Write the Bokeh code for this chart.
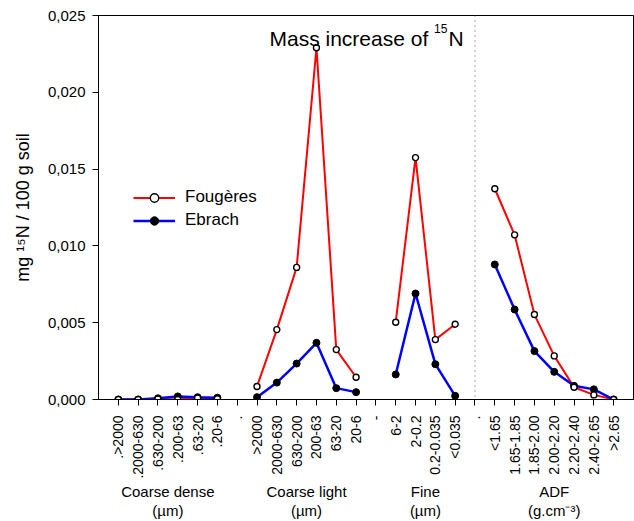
import math
from bokeh.plotting import figure
from bokeh.models import (FixedTicker, CustomJSTickFormatter, Label, Span, Legend,
                          LegendItem, Range1d, ColumnDataSource, LinearAxis)
from bokeh.embed import file_html
from bokeh.resources import INLINE

nan = float("nan")

categories = [".>2000", ".2000-630", ".630-200", ".200-63", ".63-20", ".20-6", ".",
              ">2000", "2000-630", "630-200", "200-63", "63-20", "20-6", "-",
              "6-2", "2-0.2", "0.2-0.035", "<0.035", ".",
              "<1.65", "1.65-1.85", "1.85-2.00", "2.00-2.20", "2.20-2.40", "2.40-2.65", ">2.65"]
positions = list(range(1, len(categories) + 1))

fougeres = [0.0, 0.0, 0.00003, 0.0, 0.0001, 0.00005, nan,
            0.00085, 0.00455, 0.0086, 0.0229, 0.00325, 0.00145, nan,
            0.00503, 0.01575, 0.0039, 0.0049, nan,
            0.01372, 0.01072, 0.00553, 0.00284, 0.0008, 0.0003, 0.0]
ebrach = [0.0, 0.0, 0.00008, 0.0002, 0.00015, 0.00012, nan,
          0.00015, 0.0011, 0.00234, 0.00369, 0.00074, 0.00048, nan,
          0.00163, 0.0069, 0.0023, 0.00024, nan,
          0.00879, 0.00586, 0.00315, 0.0018, 0.00089, 0.00066, 0.0]

groups = ["Coarse dense", "Coarse light", "Fine", "ADF"]
group_units = ["(\u00b5m)", "(\u00b5m)", "(\u00b5m)", "(g.cm\u207b\u00b3)"]
group_centers = [3.5, 10.5, 16.5, 23]
separator_pos = 19
y_ticks = [0, 0.005, 0.01, 0.015, 0.02, 0.025]

FONT = "Liberation Sans"

src = ColumnDataSource(dict(x=positions, f=fougeres, e=ebrach))

p = figure(width=634, height=521, x_range=Range1d(0, 27), y_range=Range1d(0, 0.025),
           output_backend="svg", toolbar_location=None,
           min_border_left=98, min_border_right=1, min_border_top=15, min_border_bottom=122)
p.xgrid.visible = False
p.ygrid.visible = False
p.outline_line_color = "black"
p.outline_line_width = 1
p.background_fill_color = "white"
p.border_fill_color = "white"

# axes
p.xaxis.ticker = FixedTicker(ticks=positions)
p.xaxis.major_label_overrides = {k: v for k, v in zip(positions, categories)}
p.xaxis.major_label_orientation = math.pi / 2
p.xaxis.major_label_text_font = FONT
p.xaxis.major_label_text_font_size = "14px"
p.xaxis.major_label_text_color = "black"
p.xaxis.major_tick_out = 6
p.xaxis.major_tick_in = 0
p.xaxis.minor_tick_out = 0
p.xaxis.minor_tick_in = 0
p.xaxis.major_label_standoff = 10
p.xaxis.axis_line_color = "black"
p.xaxis.major_tick_line_color = "black"

p.yaxis.ticker = FixedTicker(ticks=y_ticks)
p.yaxis.formatter = CustomJSTickFormatter(code="return tick.toFixed(3).replace('.', ',');")
p.yaxis.major_label_text_font = FONT
p.yaxis.major_label_text_font_size = "15px"
p.yaxis.major_label_text_color = "black"
p.yaxis.major_tick_out = 6
p.yaxis.major_tick_in = 0
p.yaxis.minor_tick_out = 0
p.yaxis.minor_tick_in = 0
p.yaxis.major_label_standoff = 7
p.yaxis.axis_line_color = "black"
p.yaxis.major_tick_line_color = "black"
p.yaxis.axis_label = "mg \u00b9\u2075N / 100 g soil"
p.yaxis.axis_label_text_font = FONT
p.yaxis.axis_label_text_font_size = "18px"
p.yaxis.axis_label_text_font_style = "normal"
p.yaxis.axis_label_text_color = "black"
p.yaxis.axis_label_standoff = 12


def group_axis(labels, standoff):
    ax = LinearAxis(ticker=FixedTicker(ticks=group_centers),
                    major_label_overrides={c: t for c, t in zip(group_centers, labels)},
                    axis_line_color=None, major_tick_line_color=None,
                    minor_tick_line_color=None, major_tick_out=0, major_tick_in=0,
                    minor_tick_out=0, minor_tick_in=0,
                    major_label_standoff=standoff, major_label_text_font=FONT,
                    major_label_text_font_size="15px", major_label_text_color="black")
    return ax


p.add_layout(group_axis(groups, 1), "below")
p.add_layout(group_axis(group_units, -1), "below")

# separator
p.add_layout(Span(location=separator_pos, dimension="height", line_color="#555555",
                  line_dash="1 4", line_width=1))

# series
r_red = p.line("x", "f", source=src, line_color="red", line_width=2)
r_blue = p.line("x", "e", source=src, line_color="blue", line_width=2.5)
m_blue = p.scatter("x", "e", source=src, marker="circle", size=7,
                   fill_color="black", line_color="black")
m_red = p.scatter("x", "f", source=src, marker="circle", size=6,
                  fill_color="white", line_color="black", line_width=1.4)

legend = Legend(items=[LegendItem(label="Fougères", renderers=[r_red, m_red]),
                       LegendItem(label="Ebrach", renderers=[r_blue, m_blue])],
                location=(35, 168.5), glyph_width=42, glyph_height=21, label_height=21,
                label_standoff=10, spacing=2, padding=0, margin=0,
                border_line_color=None, background_fill_alpha=0,
                label_text_font=FONT, label_text_font_size="17px", label_text_color="black")
p.add_layout(legend)

# title with superscript
tkw = dict(x=13.5, x_units="data", y_units="screen", text_font=FONT, text_color="black",
           text_baseline="alphabetic", text_align="left")
p.add_layout(Label(y=361.5, x_offset=-96.5, text="Mass increase of", text_font_size="21px", **tkw))
p.add_layout(Label(y=371, x_offset=68, text="15", text_font_size="12px", **tkw))
p.add_layout(Label(y=361.5, x_offset=82.5, text="N", text_font_size="21px", **tkw))

open("out.html", "w").write(file_html(p, INLINE))
